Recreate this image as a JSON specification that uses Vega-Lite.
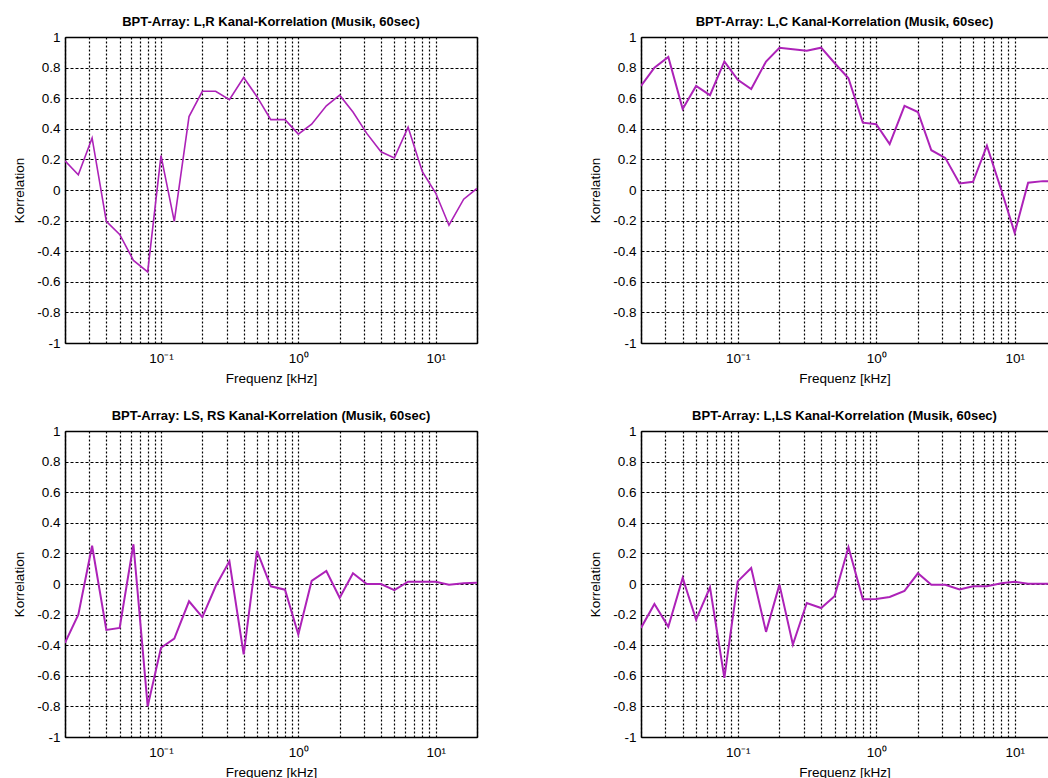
{
  "$schema": "https://vega.github.io/schema/vega-lite/v6.json",
  "padding": {"left": 12, "top": 16, "right": 0, "bottom": 0},
  "background": "white",
  "config": {
    "font": "Liberation Sans",
    "view": {"stroke": null},
    "title": {"fontSize": 13, "fontWeight": "bold", "color": "black", "offset": 1},
    "axis": {"labelFontSize": 13.5, "labelColor": "black", "titleFontSize": 13.5, "titleFontWeight": "normal", "titleColor": "black", "domainColor": "black", "domainWidth": 1.5, "tickColor": "black", "ticks": false}
  },
  "datasets": {
    "lr": [
      {"f": 0.02, "r": 0.19}, {"f": 0.025, "r": 0.10}, {"f": 0.0315, "r": 0.34}, {"f": 0.04, "r": -0.205},
      {"f": 0.05, "r": -0.29}, {"f": 0.063, "r": -0.46}, {"f": 0.08, "r": -0.535}, {"f": 0.1, "r": 0.225},
      {"f": 0.125, "r": -0.205}, {"f": 0.16, "r": 0.48}, {"f": 0.2, "r": 0.645}, {"f": 0.25, "r": 0.645},
      {"f": 0.315, "r": 0.59}, {"f": 0.4, "r": 0.735}, {"f": 0.5, "r": 0.61}, {"f": 0.63, "r": 0.46},
      {"f": 0.8, "r": 0.46}, {"f": 1.0, "r": 0.365}, {"f": 1.25, "r": 0.43}, {"f": 1.6, "r": 0.55},
      {"f": 2.0, "r": 0.62}, {"f": 2.5, "r": 0.51}, {"f": 3.15, "r": 0.37}, {"f": 4.0, "r": 0.25},
      {"f": 5.0, "r": 0.21}, {"f": 6.3, "r": 0.41}, {"f": 8.0, "r": 0.12}, {"f": 10.0, "r": -0.02},
      {"f": 12.5, "r": -0.23}, {"f": 16.0, "r": -0.06}, {"f": 20.0, "r": 0.01}
    ],
    "lc": [
      {"f": 0.02, "r": 0.68}, {"f": 0.025, "r": 0.80}, {"f": 0.0315, "r": 0.87}, {"f": 0.04, "r": 0.53},
      {"f": 0.05, "r": 0.68}, {"f": 0.063, "r": 0.62}, {"f": 0.08, "r": 0.84}, {"f": 0.1, "r": 0.72},
      {"f": 0.125, "r": 0.66}, {"f": 0.16, "r": 0.84}, {"f": 0.2, "r": 0.93}, {"f": 0.25, "r": 0.92},
      {"f": 0.315, "r": 0.91}, {"f": 0.4, "r": 0.93}, {"f": 0.5, "r": 0.83}, {"f": 0.63, "r": 0.73},
      {"f": 0.8, "r": 0.44}, {"f": 1.0, "r": 0.43}, {"f": 1.25, "r": 0.30}, {"f": 1.6, "r": 0.55},
      {"f": 2.0, "r": 0.51}, {"f": 2.5, "r": 0.26}, {"f": 3.15, "r": 0.21}, {"f": 4.0, "r": 0.043},
      {"f": 5.0, "r": 0.054}, {"f": 6.3, "r": 0.29}, {"f": 8.0, "r": 0.0}, {"f": 10.0, "r": -0.28},
      {"f": 12.5, "r": 0.048}, {"f": 16.0, "r": 0.058}, {"f": 20.0, "r": 0.058}
    ],
    "lsrs": [
      {"f": 0.02, "r": -0.385}, {"f": 0.025, "r": -0.2}, {"f": 0.0315, "r": 0.25}, {"f": 0.04, "r": -0.30},
      {"f": 0.05, "r": -0.287}, {"f": 0.063, "r": 0.26}, {"f": 0.08, "r": -0.80}, {"f": 0.1, "r": -0.417},
      {"f": 0.125, "r": -0.357}, {"f": 0.16, "r": -0.113}, {"f": 0.2, "r": -0.217}, {"f": 0.25, "r": -0.015},
      {"f": 0.315, "r": 0.148}, {"f": 0.4, "r": -0.46}, {"f": 0.5, "r": 0.217}, {"f": 0.63, "r": -0.015},
      {"f": 0.8, "r": -0.037}, {"f": 1.0, "r": -0.33}, {"f": 1.25, "r": 0.02}, {"f": 1.6, "r": 0.085},
      {"f": 2.0, "r": -0.09}, {"f": 2.5, "r": 0.07}, {"f": 3.15, "r": 0.0}, {"f": 4.0, "r": 0.0},
      {"f": 5.0, "r": -0.04}, {"f": 6.3, "r": 0.015}, {"f": 8.0, "r": 0.015}, {"f": 10.0, "r": 0.015},
      {"f": 12.5, "r": -0.005}, {"f": 16.0, "r": 0.005}, {"f": 20.0, "r": 0.008}
    ],
    "lls": [
      {"f": 0.02, "r": -0.287}, {"f": 0.025, "r": -0.13}, {"f": 0.0315, "r": -0.28}, {"f": 0.04, "r": 0.04},
      {"f": 0.05, "r": -0.233}, {"f": 0.063, "r": -0.022}, {"f": 0.08, "r": -0.613}, {"f": 0.1, "r": 0.017},
      {"f": 0.125, "r": 0.104}, {"f": 0.16, "r": -0.313}, {"f": 0.2, "r": -0.004}, {"f": 0.25, "r": -0.396},
      {"f": 0.315, "r": -0.124}, {"f": 0.4, "r": -0.157}, {"f": 0.5, "r": -0.08}, {"f": 0.63, "r": 0.24},
      {"f": 0.8, "r": -0.10}, {"f": 1.0, "r": -0.098}, {"f": 1.25, "r": -0.085}, {"f": 1.6, "r": -0.045},
      {"f": 2.0, "r": 0.07}, {"f": 2.5, "r": -0.005}, {"f": 3.15, "r": -0.005}, {"f": 4.0, "r": -0.035},
      {"f": 5.0, "r": -0.015}, {"f": 6.3, "r": -0.015}, {"f": 8.0, "r": 0.005}, {"f": 10.0, "r": 0.015},
      {"f": 12.5, "r": 0.002}, {"f": 16.0, "r": 0.002}, {"f": 20.0, "r": 0.002}
    ]
  },
  "spacing": 25,
  "vconcat": [
    {
      "spacing": 111,
      "hconcat": [
        {
          "title": "BPT-Array: L,R Kanal-Korrelation (Musik, 60sec)",
          "data": {"name": "lr"},
          "width": 412, "height": 306,
          "layer": [
            {
              "mark": {"type": "line", "color": "#ad22b8", "strokeWidth": 1.6, "clip": true},
              "encoding": {
                "x": {"field": "f", "type": "quantitative", "scale": {"type": "log", "domain": [0.02, 20], "nice": false},
                  "axis": {"orient": "bottom", "title": "Frequenz [kHz]", "titlePadding": 7, "labelPadding": 8, "grid": true, "gridColor": "black", "gridOpacity": 1, "gridDash": [2, 2], "gridWidth": 1.2,
                    "values": [0.02,0.03,0.04,0.05,0.06,0.07,0.08,0.09,0.1,0.2,0.3,0.4,0.5,0.6,0.7,0.8,0.9,1,2,3,4,5,6,7,8,9,10,20],
                    "labelExpr": "datum.value == 0.1 ? '10⁻¹' : datum.value == 1 ? '10⁰' : datum.value == 10 ? '10¹' : ''"}},
                "y": {"field": "r", "type": "quantitative", "scale": {"domain": [-1, 1], "nice": false},
                  "axis": {"orient": "left", "title": "Korrelation", "titlePadding": 10, "labelPadding": 5, "grid": true, "gridColor": "black", "gridOpacity": 1, "gridDash": [3, 2], "gridWidth": 1.2,
                    "values": [-1,-0.8,-0.6,-0.4,-0.2,0,0.2,0.4,0.6,0.8,1],
                    "labelExpr": "datum.value < 0 ? '-' + format(-datum.value, '.1~f') : format(datum.value, '.1~f')"}}
              }
            },
            {
              "mark": {"type": "line", "opacity": 0},
              "encoding": {
                "x": {"field": "f", "type": "quantitative", "scale": {"type": "log", "domain": [0.02, 20], "nice": false},
                  "axis": {"orient": "top", "title": null, "labels": false, "grid": false}},
                "y": {"field": "r", "type": "quantitative", "scale": {"domain": [-1, 1], "nice": false},
                  "axis": {"orient": "right", "title": null, "labels": false, "grid": false}}
              }
            }
          ],
          "resolve": {"axis": {"x": "independent", "y": "independent"}}
        },
        {
          "title": "BPT-Array: L,C Kanal-Korrelation (Musik, 60sec)",
          "data": {"name": "lc"},
          "width": 407, "height": 306,
          "layer": [
            {
              "mark": {"type": "line", "color": "#ad22b8", "strokeWidth": 2, "clip": true},
              "encoding": {
                "x": {"field": "f", "type": "quantitative", "scale": {"type": "log", "domain": [0.02, 17.4], "nice": false},
                  "axis": {"orient": "bottom", "title": "Frequenz [kHz]", "titlePadding": 7, "labelPadding": 8, "grid": true, "gridColor": "black", "gridOpacity": 1, "gridDash": [2, 2], "gridWidth": 1.2,
                    "values": [0.02,0.03,0.04,0.05,0.06,0.07,0.08,0.09,0.1,0.2,0.3,0.4,0.5,0.6,0.7,0.8,0.9,1,2,3,4,5,6,7,8,9,10],
                    "labelExpr": "datum.value == 0.1 ? '10⁻¹' : datum.value == 1 ? '10⁰' : datum.value == 10 ? '10¹' : ''"}},
                "y": {"field": "r", "type": "quantitative", "scale": {"domain": [-1, 1], "nice": false},
                  "axis": {"orient": "left", "title": "Korrelation", "titlePadding": 10, "labelPadding": 5, "grid": true, "gridColor": "black", "gridOpacity": 1, "gridDash": [3, 2], "gridWidth": 1.2,
                    "values": [-1,-0.8,-0.6,-0.4,-0.2,0,0.2,0.4,0.6,0.8,1],
                    "labelExpr": "datum.value < 0 ? '-' + format(-datum.value, '.1~f') : format(datum.value, '.1~f')"}}
              }
            },
            {
              "mark": {"type": "line", "opacity": 0, "clip": true},
              "encoding": {
                "x": {"field": "f", "type": "quantitative", "scale": {"type": "log", "domain": [0.02, 17.4], "nice": false},
                  "axis": {"orient": "top", "title": null, "labels": false, "grid": false}},
                "y": {"field": "r", "type": "quantitative", "scale": {"domain": [-1, 1], "nice": false}, "axis": null}
              }
            }
          ],
          "resolve": {"axis": {"x": "independent", "y": "independent"}}
        }
      ]
    },
    {
      "spacing": 111,
      "hconcat": [
        {
          "title": "BPT-Array: LS, RS Kanal-Korrelation (Musik, 60sec)",
          "data": {"name": "lsrs"},
          "width": 412, "height": 306,
          "layer": [
            {
              "mark": {"type": "line", "color": "#ad22b8", "strokeWidth": 2, "clip": true},
              "encoding": {
                "x": {"field": "f", "type": "quantitative", "scale": {"type": "log", "domain": [0.02, 20], "nice": false},
                  "axis": {"orient": "bottom", "title": "Frequenz [kHz]", "titlePadding": 7, "labelPadding": 8, "grid": true, "gridColor": "black", "gridOpacity": 1, "gridDash": [2, 2], "gridWidth": 1.2,
                    "values": [0.02,0.03,0.04,0.05,0.06,0.07,0.08,0.09,0.1,0.2,0.3,0.4,0.5,0.6,0.7,0.8,0.9,1,2,3,4,5,6,7,8,9,10,20],
                    "labelExpr": "datum.value == 0.1 ? '10⁻¹' : datum.value == 1 ? '10⁰' : datum.value == 10 ? '10¹' : ''"}},
                "y": {"field": "r", "type": "quantitative", "scale": {"domain": [-1, 1], "nice": false},
                  "axis": {"orient": "left", "title": "Korrelation", "titlePadding": 10, "labelPadding": 5, "grid": true, "gridColor": "black", "gridOpacity": 1, "gridDash": [3, 2], "gridWidth": 1.2,
                    "values": [-1,-0.8,-0.6,-0.4,-0.2,0,0.2,0.4,0.6,0.8,1],
                    "labelExpr": "datum.value < 0 ? '-' + format(-datum.value, '.1~f') : format(datum.value, '.1~f')"}}
              }
            },
            {
              "mark": {"type": "line", "opacity": 0},
              "encoding": {
                "x": {"field": "f", "type": "quantitative", "scale": {"type": "log", "domain": [0.02, 20], "nice": false},
                  "axis": {"orient": "top", "title": null, "labels": false, "grid": false}},
                "y": {"field": "r", "type": "quantitative", "scale": {"domain": [-1, 1], "nice": false},
                  "axis": {"orient": "right", "title": null, "labels": false, "grid": false}}
              }
            }
          ],
          "resolve": {"axis": {"x": "independent", "y": "independent"}}
        },
        {
          "title": "BPT-Array: L,LS Kanal-Korrelation (Musik, 60sec)",
          "data": {"name": "lls"},
          "width": 407, "height": 306,
          "layer": [
            {
              "mark": {"type": "line", "color": "#ad22b8", "strokeWidth": 2, "clip": true},
              "encoding": {
                "x": {"field": "f", "type": "quantitative", "scale": {"type": "log", "domain": [0.02, 17.4], "nice": false},
                  "axis": {"orient": "bottom", "title": "Frequenz [kHz]", "titlePadding": 7, "labelPadding": 8, "grid": true, "gridColor": "black", "gridOpacity": 1, "gridDash": [2, 2], "gridWidth": 1.2,
                    "values": [0.02,0.03,0.04,0.05,0.06,0.07,0.08,0.09,0.1,0.2,0.3,0.4,0.5,0.6,0.7,0.8,0.9,1,2,3,4,5,6,7,8,9,10],
                    "labelExpr": "datum.value == 0.1 ? '10⁻¹' : datum.value == 1 ? '10⁰' : datum.value == 10 ? '10¹' : ''"}},
                "y": {"field": "r", "type": "quantitative", "scale": {"domain": [-1, 1], "nice": false},
                  "axis": {"orient": "left", "title": "Korrelation", "titlePadding": 10, "labelPadding": 5, "grid": true, "gridColor": "black", "gridOpacity": 1, "gridDash": [3, 2], "gridWidth": 1.2,
                    "values": [-1,-0.8,-0.6,-0.4,-0.2,0,0.2,0.4,0.6,0.8,1],
                    "labelExpr": "datum.value < 0 ? '-' + format(-datum.value, '.1~f') : format(datum.value, '.1~f')"}}
              }
            },
            {
              "mark": {"type": "line", "opacity": 0, "clip": true},
              "encoding": {
                "x": {"field": "f", "type": "quantitative", "scale": {"type": "log", "domain": [0.02, 17.4], "nice": false},
                  "axis": {"orient": "top", "title": null, "labels": false, "grid": false}},
                "y": {"field": "r", "type": "quantitative", "scale": {"domain": [-1, 1], "nice": false}, "axis": null}
              }
            }
          ],
          "resolve": {"axis": {"x": "independent", "y": "independent"}}
        }
      ]
    }
  ]
}
